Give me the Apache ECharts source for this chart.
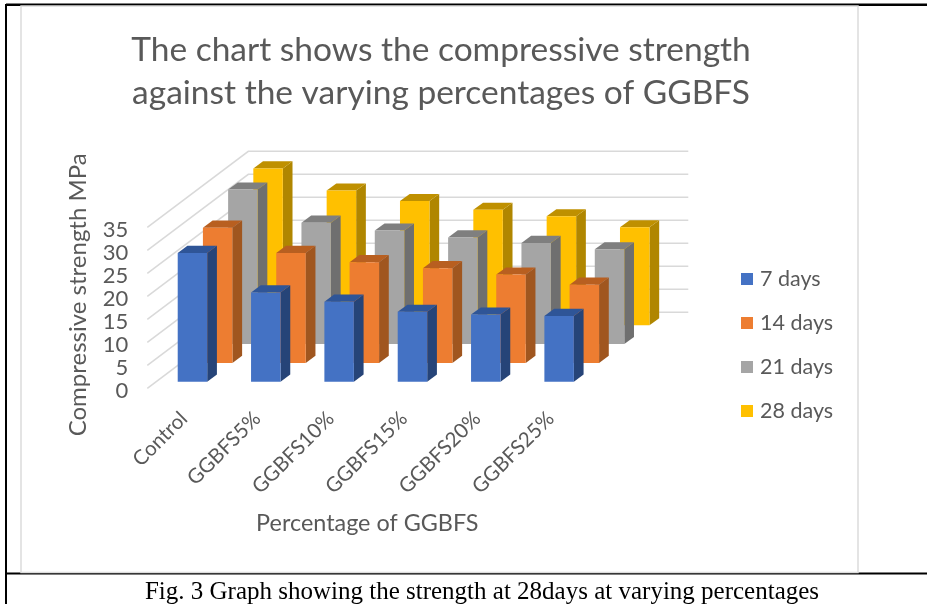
<!DOCTYPE html>
<html>
<head>
<meta charset="utf-8">
<style>html,body{margin:0;padding:0;background:#fff}#c{width:927px;height:604px}</style>
<script src="https://cdn.jsdelivr.net/npm/echarts@6/dist/echarts.min.js"></script>
</head>
<body>
<div id="c"></div>
<script>
const categories = ['Control', 'GGBFS5%', 'GGBFS10%', 'GGBFS15%', 'GGBFS20%', 'GGBFS25%'];
const days7  = [28.0, 19.4, 17.4, 15.2, 14.6, 14.3];
const days14 = [29.4, 23.9, 21.9, 20.6, 19.2, 17.0];
const days21 = [33.6, 26.4, 24.7, 23.2, 22.0, 20.6];
const days28 = [34.1, 29.3, 27.0, 25.1, 23.7, 21.3];
const yTicks = [0, 5, 10, 15, 20, 25, 30, 35];

const FONT = 'Lato';
const TEXT = '#595959';
const SLOT_DX = 25.2, SLOT_DY = -18.8, START_DX = 8.5, START_DY = -6.6;
const BAR_W = 29.5, BAR_DX = 9.7, BAR_DY = -7.1;
const WALL_DX = 101, WALL_DY = -76;

function barSeries(name, data, idx, front, side, top) {
  return {
    name, type: 'custom', coordinateSystem: 'cartesian2d', z: 10 - idx,
    itemStyle: { color: front },
    encode: { x: 0, y: 1 },
    data: data.map((v, i) => [i, v]),
    renderItem(params, api) {
      const base = api.coord([api.value(0), 0]);
      const head = api.coord([api.value(0), api.value(1)]);
      const ox = START_DX + SLOT_DX * idx, oy = START_DY + SLOT_DY * idx;
      const l = base[0] + ox - BAR_W / 2, r = l + BAR_W;
      const b = base[1] + oy, t = head[1] + oy;
      return { type: 'group', children: [
        { type: 'polygon', shape: { points: [[r, b], [r + BAR_DX, b + BAR_DY], [r + BAR_DX, t + BAR_DY], [r, t]] }, style: { fill: side } },
        { type: 'polygon', shape: { points: [[l, t], [r, t], [r + BAR_DX, t + BAR_DY], [l + BAR_DX, t + BAR_DY]] }, style: { fill: top } },
        { type: 'rect', shape: { x: l, y: t, width: BAR_W, height: b - t }, style: { fill: front } }
      ] };
    }
  };
}

const wallSeries = {
  type: 'custom', coordinateSystem: 'cartesian2d', z: 1, silent: true,
  encode: { x: 0, y: 1 },
  data: yTicks.map(v => [0, v]),
  renderItem(params, api) {
    const band = api.size([1, 0])[0];
    const p = api.coord([0, api.value(1)]);
    const x0 = p[0] - band / 2, y0 = p[1];
    const x1 = x0 + WALL_DX, y1 = y0 + WALL_DY;
    return { type: 'polyline',
      shape: { points: [[x0, y0], [x1, y1], [x1 + band * categories.length, y1]] },
      style: { stroke: '#d9d9d9', lineWidth: 1.5, fill: null } };
  }
};

const chart = echarts.init(document.getElementById('c'), null, { renderer: 'canvas' });
chart.setOption({
  animation: false,
  backgroundColor: '#fff',
  title: [
    { text: 'The chart shows the compressive strength\nagainst the varying percentages of GGBFS',
      left: 436, top: 24, textAlign: 'center',
      textStyle: { fontFamily: FONT, fontWeight: 'normal', fontSize: 33.5, lineHeight: 43, color: TEXT } },
    { text: 'Fig. 3 Graph showing the strength at 28days at varying percentages',
      left: 477, top: 573, textAlign: 'center',
      textStyle: { fontFamily: 'Liberation Serif', fontWeight: 'normal', fontSize: 25, lineHeight: 28, color: '#000' } }
  ],
  legend: {
    orient: 'vertical', left: 736, top: 263, itemWidth: 12, itemHeight: 12, itemGap: 22,
    icon: 'rect', data: ['7 days', '14 days', '21 days', '28 days'],
    textStyle: { fontFamily: FONT, fontSize: 21.5, color: TEXT, padding: [0, 0, 0, 2] }
  },
  grid: { left: 147.3, top: 227.3, width: 440, height: 161 },
  xAxis: {
    type: 'category', data: categories,
    name: 'Percentage of GGBFS', nameLocation: 'middle', nameGap: 124,
    nameTextStyle: { fontFamily: FONT, fontSize: 23.4, color: TEXT },
    axisLine: { show: false }, axisTick: { show: false },
    axisLabel: { rotate: 45, margin: 27, interval: 0, fontFamily: FONT, fontSize: 20.5, color: TEXT }
  },
  yAxis: {
    type: 'value', min: 0, max: 35, interval: 5,
    name: 'Compressive strength MPa', nameLocation: 'middle', nameGap: 57,
    nameTextStyle: { fontFamily: FONT, fontSize: 24, color: TEXT, padding: [0, 0, 0, 26] },
    axisLine: { show: false }, axisTick: { show: false }, splitLine: { show: false },
    axisLabel: { margin: 19, formatter: '{n|{value}}',
      rich: { n: { fontFamily: FONT, fontSize: 22, color: TEXT, padding: [5, 0, 0, 0] } } }
  },
  graphic: [
    { type: 'line', z: -2, shape: { x1: 6, y1: 4.75, x2: 927, y2: 4.75 }, style: { stroke: '#000', lineWidth: 2.5 } },
    { type: 'line', z: -2, shape: { x1: 6, y1: 4, x2: 6, y2: 604 }, style: { stroke: '#000', lineWidth: 2 } },
    { type: 'line', z: -2, shape: { x1: 6, y1: 573.5, x2: 927, y2: 573.5 }, style: { stroke: '#000', lineWidth: 2 } },
    { type: 'rect', z: -1, shape: { x: 21, y: 6, width: 837, height: 566.5 }, style: { fill: '#fff', stroke: '#dcdcdc', lineWidth: 1.5 } }
  ],
  series: [
    wallSeries,
    barSeries('7 days', days7, 0, '#4472c4', '#264478', '#2f5597'),
    barSeries('14 days', days14, 1, '#ed7d31', '#a0561f', '#b85f20'),
    barSeries('21 days', days21, 2, '#a5a5a5', '#6f6f6f', '#7f7f7f'),
    barSeries('28 days', days28, 3, '#ffc000', '#b08600', '#bf9000')
  ]
});
</script>
</body>
</html>
